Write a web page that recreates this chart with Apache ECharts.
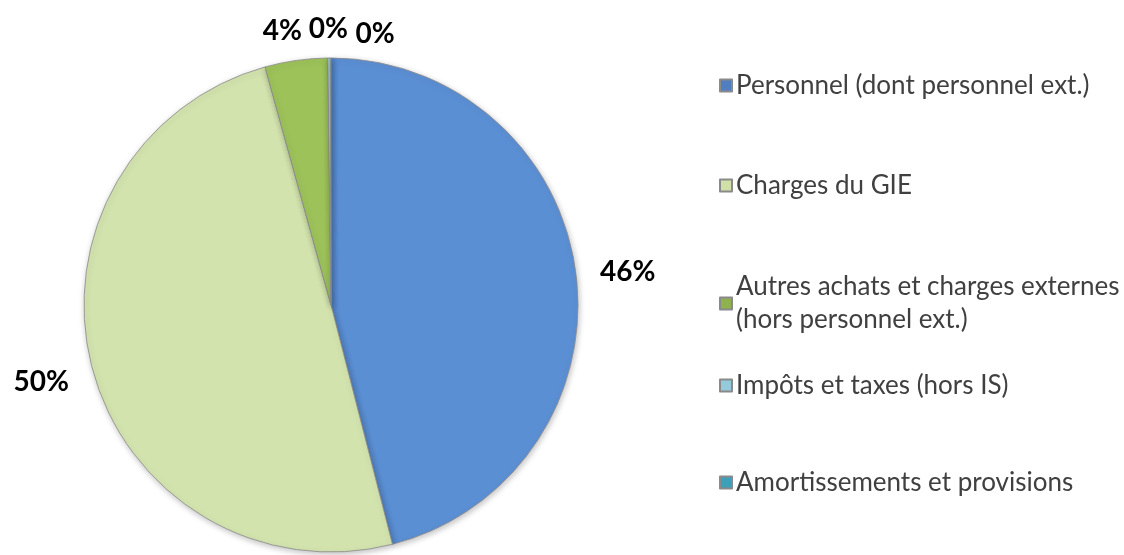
<!DOCTYPE html>
<html>
<head>
<meta charset="utf-8">
<script src="https://cdn.jsdelivr.net/npm/echarts@6/dist/echarts.min.js"></script>
<style>html,body{margin:0;padding:0;background:#fff}#c{width:1124px;height:555px}</style>
</head>
<body>
<div id="c"></div>
<script>
const categories = ["Personnel (dont personnel ext.)", "Charges du GIE", "Autres achats et charges externes\n(hors personnel ext.)", "Impôts et taxes (hors IS)", "Amortissements et provisions"];
const values = [46.0, 49.7, 4.1, 0.15, 0.05];
const colors = ["#5B8FD4", "#D3E3AE", "#9DC25A", "#A8D6E2", "#4BACC6"];
const legendIcons = ["#4F7FC0", "#D0E0A8", "#8DB24E", "#93CBDB", "#3E9FBA"];

const labelOffsets = [[0, 0], [0, 9], [16, -14], [27, -13], [72, -8]];
const legendTops = [64, 164, 249, 364, 461];

const chart = echarts.init(document.getElementById('c'));
chart.setOption({
  animation: false,
  legend: categories.map((c, i) => ({
    orient: 'vertical',
    left: 714,
    top: legendTops[i],
    itemWidth: 12,
    itemHeight: 12,
    itemGap: 0,
    icon: 'rect',
    textStyle: { fontFamily: 'Lato', fontSize: 26, color: '#404040', lineHeight: 33, padding: i === 2 ? [33, 0, 0, -1] : [0, 0, 0, -1] },
    data: [{ name: c, itemStyle: { color: legendIcons[i] } }]
  })),
  series: [{
    type: 'pie',
    center: [331, 305],
    radius: 247,
    startAngle: 90,
    clockwise: true,
    avoidLabelOverlap: false,
    labelLayout: { hideOverlap: false },
    itemStyle: { borderColor: '#8a8a8a', borderWidth: 0.8, shadowBlur: 6, shadowColor: 'rgba(0,0,0,0.25)', shadowOffsetX: 1, shadowOffsetY: 2 },
    label: {
      show: true,
      position: 'outside',
      formatter: p => Math.round(p.percent) + '%',
      fontFamily: 'Lato',
      fontWeight: 'bold',
      fontSize: 28,
      color: '#000'
    },
    labelLine: { show: false, length: 16, length2: 3 },
    emphasis: { disabled: true },
    data: categories.map((c, i) => ({
      name: c,
      value: values[i],
      itemStyle: { color: colors[i] },
      label: { offset: labelOffsets[i] }
    }))
  }]
});
</script>
</body>
</html>
